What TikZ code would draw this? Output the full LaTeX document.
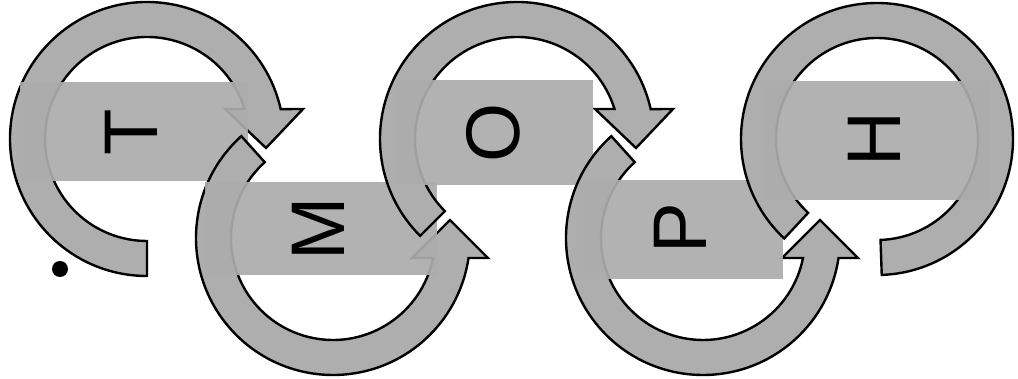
\documentclass[tikz,border=0pt]{standalone}
\usepackage{fontspec}
\setmainfont{Liberation Sans}
\definecolor{ringgray}{RGB}{174,174,174}
\definecolor{boxgray}{RGB}{172,172,172}

\begin{document}
\begin{tikzpicture}[
  x=0.5pt, y=0.5pt,
  ringarrow/.style={fill=ringgray, draw=black, line width=1.2pt, line join=miter},
  lettbox/.style={fill=boxgray, fill opacity=0.93, draw=none},
  letter/.style={rotate=90, inner sep=0pt, font=\fontsize{38}{40}\selectfont}
]
  \useasboundingbox (0,0) rectangle (1018,379);

  % T
  \begin{scope}[shift={(147,240)}]
    \draw[ringarrow] (270:137) arc[start angle=270, end angle=12.6, radius=137]
      -- (156,30) -- (119,-9) -- (78,30) -- (17.1:102)
      arc[start angle=17.1, end angle=270, radius=102] -- cycle;
  \end{scope}
  \fill[lettbox] (20,198) rectangle (248,297);
  \node[letter] (t) at (131.5,246.5) {T};

  % M
  \begin{scope}[shift={(333,141)}]
    \draw[ringarrow] (132:137) arc[start angle=132, end angle=351.6, radius=137]
      -- (155,-20) -- (117,18) -- (79,-20) -- (348.7:102)
      arc[start angle=348.7, end angle=132, radius=102] -- cycle;
  \end{scope}
  \fill[lettbox] (205,104) rectangle (437,197);
  \node[letter] (m) at (318.5,150) {M};

  % O
  \begin{scope}[shift={(517,240)}]
    \draw[ringarrow] (225:137) arc[start angle=225, end angle=12.6, radius=137]
      -- (156,30) -- (119,-9) -- (78,30) -- (17.1:102)
      arc[start angle=17.1, end angle=225, radius=102] -- cycle;
  \end{scope}
  \fill[lettbox] (397,194) rectangle (593,299);
  \node[letter] (o) at (493.5,246.5) {O};

  % P
  \begin{scope}[shift={(703,141)}]
    \draw[ringarrow] (132:137) arc[start angle=132, end angle=351.6, radius=137]
      -- (155,-20) -- (117,18) -- (79,-20) -- (348.7:102)
      arc[start angle=348.7, end angle=132, radius=102] -- cycle;
  \end{scope}
  \fill[lettbox] (580,100) rectangle (783,199);
  \node[letter] (p) at (680,150.5) {P};

  % H
  \begin{scope}[shift={(877,240)}]
    \draw[ringarrow] (272:136) arc[start angle=272, end angle=587, radius=136]
      -- (587:101) arc[start angle=587, end angle=272, radius=101] -- cycle;
  \end{scope}
  \fill[lettbox] (765,179) rectangle (990,298);
  \node[letter] (h) at (874.5,239.5) {H};

  \node[circle, fill=black, inner sep=0pt, minimum size=8pt] (dot) at (60,110) {};
\end{tikzpicture}
\end{document}
